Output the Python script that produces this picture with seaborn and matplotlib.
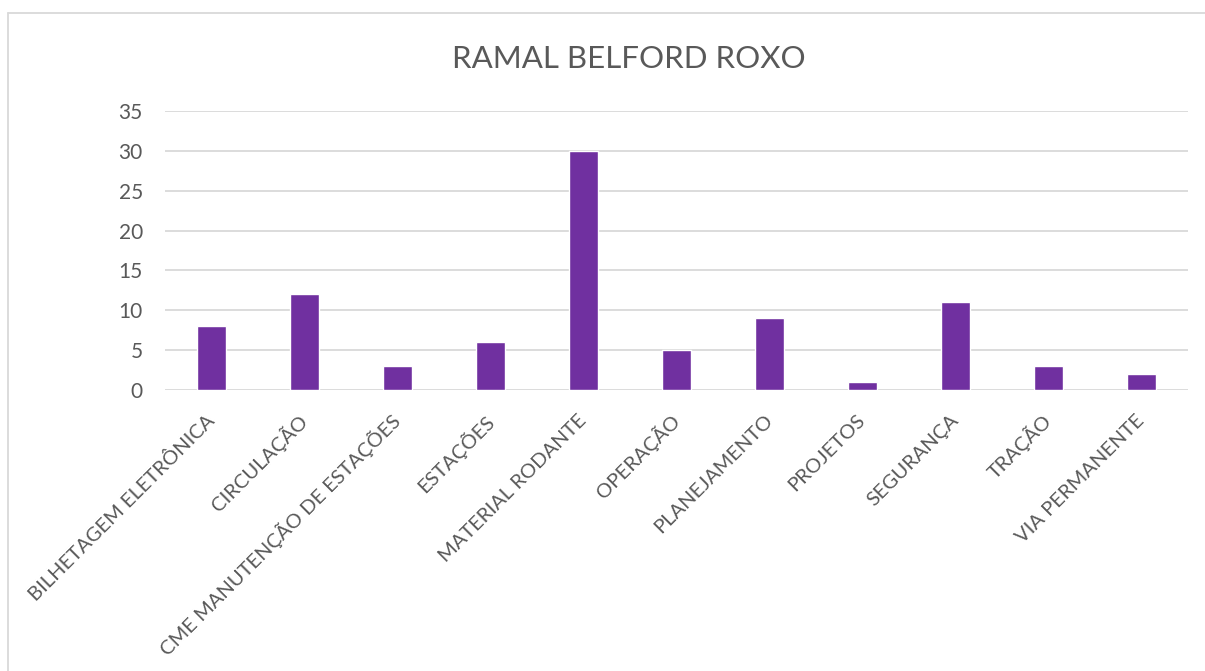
import matplotlib
matplotlib.use("Agg")
import matplotlib.pyplot as plt
import seaborn as sns
import pandas as pd
from matplotlib.lines import Line2D

# dados do grafico
categorias = ["BILHETAGEM ELETRÔNICA", "CIRCULAÇÃO", "CME MANUTENÇÃO DE ESTAÇÕES",
              "ESTAÇÕES", "MATERIAL RODANTE", "OPERAÇÃO", "PLANEJAMENTO",
              "PROJETOS", "SEGURANÇA", "TRAÇÃO", "VIA PERMANENTE"]
valores = [8, 12, 3, 6, 30, 5, 9, 1, 11, 3, 2]
titulo = "RAMAL BELFORD ROXO"
yticks = [0, 5, 10, 15, 20, 25, 30, 35]

sns.set_style("white")
plt.rcParams['font.family'] = ['Lato', 'DejaVu Sans']

cinza_txt = "#595959"
cinza_grade = "#D9D9D9"
roxo = "#7030A0"

df = pd.DataFrame({"cat": categorias, "val": valores})

fig = plt.figure(figsize=(12.05, 6.71), dpi=100)
ax = fig.add_axes([165 / 1205, 1 - 390 / 671, (1188 - 165) / 1205, (390 - 111) / 671])

sns.barplot(data=df, x="cat", y="val", color=roxo, saturation=1, width=0.32, ax=ax, zorder=3)

ax.set_xlim(-0.5, len(categorias) - 0.5)
ax.set_ylim(0, 35)
ax.set_yticks(yticks)
ax.grid(axis="y", color=cinza_grade, linewidth=1.3, zorder=0)
ax.grid(axis="x", visible=False)
for s in ax.spines.values():
    s.set_visible(False)
ax.set_xlabel("")
ax.set_ylabel("")
ax.tick_params(axis="y", length=0, pad=16, labelsize=15, labelcolor=cinza_txt)
ax.tick_params(axis="x", length=0, pad=20, labelsize=14.5, labelcolor=cinza_txt)
ax.set_xticks(range(len(categorias)))
ax.set_xticklabels(categorias, rotation=45, ha="right", va="center", rotation_mode="anchor")

# borda da area do grafico (so topo e esquerda aparecem)
x0 = 8 / 1205
y0 = 1 - 13 / 671
fig.add_artist(Line2D([x0, 1.0], [y0, y0], transform=fig.transFigure, color=cinza_grade, linewidth=1.3))
fig.add_artist(Line2D([x0, x0], [0.0, y0], transform=fig.transFigure, color=cinza_grade, linewidth=1.3))

fig.text(629 / 1205, 1 - 68 / 671, titulo, ha="center", va="baseline", fontsize=22.5, color=cinza_txt)

fig.savefig("out.png", dpi=100)
